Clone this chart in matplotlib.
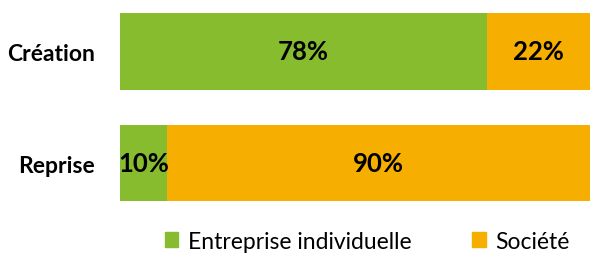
import matplotlib
matplotlib.use("Agg")
import matplotlib.pyplot as plt
from matplotlib.patches import Patch

plt.rcParams['font.family'] = ['Lato', 'DejaVu Sans']

categories = ["Création", "Reprise"]
entreprise_indiv = [78, 10]
societe = [22, 90]
series_names = ["Entreprise individuelle", "Société"]

green = "#86BC2D"
orange = "#F6AF00"

fig = plt.figure(figsize=(5.9, 2.55), dpi=100)
ax = fig.add_axes([120 / 590, 0.160, 1 - 120 / 590, 0.831])

ypos = list(range(len(categories)))
ax.barh(ypos, entreprise_indiv, height=0.69, color=green)
ax.barh(ypos, societe, left=entreprise_indiv, height=0.69, color=orange)

for y, a, b in zip(ypos, entreprise_indiv, societe):
    ax.text(a / 2, y, f"{a}%", ha="center", va="center",
            fontsize=18.5, fontweight="bold", color="black")
    ax.text(a + b / 2, y, f"{b}%", ha="center", va="center",
            fontsize=18.5, fontweight="bold", color="black")

ax.set_xlim(0, 100)
ax.set_ylim(1.45, -0.45)
ax.set_yticks(ypos)
ax.set_yticklabels(categories, fontsize=16.5, fontweight="bold")
ax.set_xticks([])
ax.tick_params(axis="y", length=0, pad=18)
for s in ax.spines.values():
    s.set_visible(False)

handles = [Patch(color=green), Patch(color=orange)]
fig.legend(handles, series_names, loc="center", ncol=2,
           bbox_to_anchor=(367 / 590, 0.05), frameon=False,
           fontsize=16.5, handlelength=0.6, handleheight=0.6,
           handletextpad=0.4, columnspacing=2.65)

fig.savefig("out.png", dpi=100)
